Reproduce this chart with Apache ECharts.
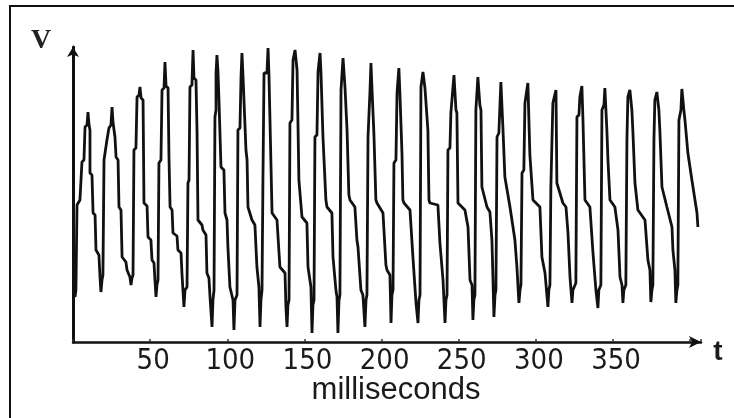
<!DOCTYPE html>
<html>
<head>
<meta charset="utf-8">
<script src="https://cdn.jsdelivr.net/npm/echarts@6/dist/echarts.min.js"></script>
<style>
html,body{margin:0;padding:0;background:#fff;}
#chart{width:734px;height:418px;}
</style>
</head>
<body>
<div id="chart"></div>
<script>
// time in milliseconds
var timeMs = [
1.3,
1.9,2.6,4.5,5.8,7.1,7.8,9.1,9.7,10.4,11.0,11.0,12.3,13.0,14.3,14.9,16.8,17.5,18.1,18.8,
19.4,20.1,22.0,23.3,24.6,25.3,25.9,27.2,27.9,29.2,29.8,31.1,31.8,34.3,35.0,36.9,37.6,38.2,
38.9,39.5,40.8,41.5,42.8,43.4,44.1,45.4,46.0,48.0,48.6,50.5,51.2,52.5,53.1,53.8,54.4,
55.1,55.7,57.0,57.7,59.0,59.6,60.3,61.6,62.2,62.9,64.2,64.8,67.4,68.0,70.0,70.6,71.9,72.6,
73.9,74.5,75.2,75.8,77.1,77.8,78.4,79.7,80.4,81.0,83.6,84.2,86.2,86.8,88.1,88.8,90.1,90.7,
91.4,92.0,92.7,92.7,93.3,94.0,94.6,95.9,97.8,98.5,99.8,100.4,101.7,103.7,104.3,105.0,
106.3,106.9,108.2,108.9,109.5,110.2,110.8,112.1,112.8,113.4,116.0,117.9,119.2,120.5,121.2,121.8,
122.5,123.1,123.8,125.7,126.4,127.0,127.7,129.0,132.2,134.1,137.4,138.0,138.7,139.3,
140.0,140.6,141.9,142.6,143.9,145.2,145.8,146.4,148.4,151.6,152.3,154.2,154.9,155.5,
156.2,156.8,158.1,158.8,160.1,160.7,162.0,163.9,164.6,167.8,168.5,170.4,171.1,171.7,172.4,
173.0,173.7,174.3,175.0,176.3,177.6,178.8,179.5,182.7,184.0,184.7,186.6,187.9,189.2,189.9,
190.5,191.2,191.8,192.5,193.1,193.8,195.0,196.3,197.0,200.9,202.8,203.5,205.4,206.1,206.7,
207.4,208.0,209.3,210.0,211.2,211.9,213.2,213.8,214.5,218.4,220.3,222.3,223.6,224.2,
224.9,225.5,226.8,228.1,230.0,230.7,231.3,236.5,237.8,239.8,241.1,241.7,
242.4,243.0,244.3,244.9,246.9,248.2,248.8,249.5,254.0,256.0,257.3,258.6,259.2,259.8,
260.5,261.1,262.4,263.7,264.4,265.0,268.3,270.2,271.5,272.2,272.8,273.5,
274.1,274.8,276.0,277.3,278.6,279.9,283.2,286.4,287.7,289.0,289.7,
290.3,291.0,292.2,292.9,294.8,296.1,296.8,298.1,302.6,303.9,305.9,307.8,308.4,
309.1,309.7,310.4,311.0,313.0,313.6,314.3,317.5,319.5,320.8,322.1,323.4,324.0,
325.9,326.6,327.9,328.5,329.8,330.5,331.8,335.0,337.0,338.9,340.2,340.8,
342.1,342.8,344.1,344.7,346.0,346.7,348.0,351.2,353.2,354.5,355.8,356.4,357.0,
358.3,359.0,359.6,360.9,362.2,362.9,364.2,366.1,370.7,372.6,373.9,374.5,375.2,
375.8,376.5,377.1,378.4,379.7,380.4,381.7,384.9,388.2,388.8,390.1,390.7,391.4,
392.0,392.7,394.0,394.6,395.9,396.6,398.5,401.1,403.1,404.4,405.0
];
// voltage (arbitrary units)
var voltage = [
45,
52,137,142,180,182,215,217,230,217,212,169,167,129,127,92,87,65,50,62,
67,182,202,214,217,235,220,205,185,182,135,132,85,80,72,65,57,64,
67,192,194,245,247,255,244,242,139,136,105,102,82,79,62,45,57,
62,179,182,252,254,280,256,254,185,135,132,109,106,92,89,69,35,52,
55,159,162,255,257,292,264,262,209,122,117,112,107,69,64,45,15,42,
52,225,232,269,287,269,242,175,172,129,122,95,55,42,12,42,
47,212,214,265,289,265,242,192,182,135,122,117,75,55,15,42,
52,162,269,269,294,267,219,129,122,75,69,35,15,37,
42,219,222,282,292,272,219,162,125,119,75,55,9,37,
42,205,207,270,289,270,205,142,135,129,85,52,45,9,42,
47,252,254,284,254,212,147,142,135,102,95,52,47,15,42,
47,205,207,252,279,252,209,142,139,129,77,72,67,19,47,
52,179,182,249,274,247,189,142,139,132,85,39,19,42,
47,255,270,254,212,142,139,137,99,62,19,42,
47,192,194,229,267,232,229,139,132,115,62,57,22,42,
47,232,265,237,232,155,135,130,102,62,25,47,
52,205,209,260,215,165,135,102,75,39,52,
57,169,172,239,259,187,185,142,135,85,69,35,52,
57,155,157,239,252,159,157,139,135,109,65,39,52,
59,225,227,245,256,222,142,135,89,52,34,52,
57,232,237,254,212,182,142,135,112,65,57,39,52,
57,202,245,252,232,209,159,132,122,82,72,40,52,
57,202,242,250,232,209,155,135,115,92,72,39,52,
57,222,232,253,232,222,189,162,142,129,115
];
var tickLabels = ['50','100','150','200','250','300','350'];

var trace = [];
for (var i = 0; i < timeMs.length; i++) trace.push([timeMs[i], voltage[i]]);

var chart = echarts.init(document.getElementById('chart'), null, {renderer: 'canvas'});
chart.setOption({
  backgroundColor: '#ffffff',
  animation: false,
  grid: {left: 73, right: 33, top: 47, bottom: 76},
  xAxis: {
    type: 'value', min: 0, max: 407, interval: 50,
    axisLine: {show: true, symbol: ['none', 'arrow'], symbolSize: [9, 12],
      lineStyle: {color: '#111', width: 2.5}},
    axisTick: {show: true, inside: true, length: 3, lineStyle: {color: '#333', width: 1.5}},
    axisLabel: {
      color: '#1a1a1a', fontSize: 29, margin: 5, padding: [0, 0, 0, 6],
      fontFamily: '"Liberation Sans Narrow", "DejaVu Sans Condensed", sans-serif',
      formatter: function (v) {
        var s = String(v);
        return tickLabels.indexOf(s) >= 0 ? s : '';
      }
    },
    splitLine: {show: false}
  },
  yAxis: {
    type: 'value', min: 0, max: 295,
    axisLine: {show: true, symbol: ['none', 'arrow'], symbolSize: [9, 10],
      lineStyle: {color: '#111', width: 3}},
    axisTick: {show: false},
    axisLabel: {show: false},
    splitLine: {show: false}
  },
  series: [{
    type: 'line',
    data: trace,
    showSymbol: false,
    symbol: 'none',
    lineStyle: {color: '#111111', width: 2.8},
    clip: true
  }],
  graphic: [
    {type: 'rect', shape: {x: 10, y: 6, width: 800, height: 500},
      style: {fill: 'none', stroke: '#111', lineWidth: 2}, silent: true},
    {type: 'text', x: 41, y: 41,
      style: {text: 'V', fill: '#222', font: 'bold 28px "Liberation Serif", serif',
        textAlign: 'center', textVerticalAlign: 'middle'}},
    {type: 'text', x: 718, y: 352,
      style: {text: 't', fill: '#1a1a1a', font: 'bold 28px "Liberation Sans", sans-serif',
        textAlign: 'center', textVerticalAlign: 'middle'}},
    {type: 'text', x: 396, y: 390,
      style: {text: 'milliseconds', fill: '#1a1a1a', font: '31px "Liberation Sans", sans-serif',
        textAlign: 'center', textVerticalAlign: 'middle'}}
  ]
});
</script>
</body>
</html>
